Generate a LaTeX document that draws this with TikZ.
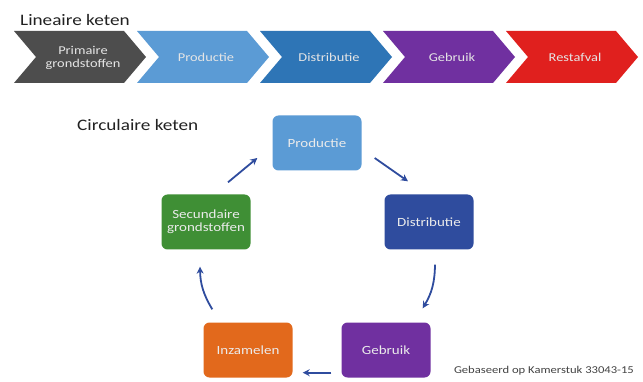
\documentclass[tikz,border=0pt]{standalone}
\usepackage{fontspec}
\setmainfont[FakeStretch=1.2]{Carlito}
\usetikzlibrary{arrows.meta}
\definecolor{cgray}{HTML}{4D4D4D}
\definecolor{clblue}{HTML}{5B9BD5}
\definecolor{cblue}{HTML}{2E75B6}
\definecolor{cpurple}{HTML}{7030A0}
\definecolor{cred}{HTML}{E0201E}
\definecolor{cdblue}{HTML}{2F4C9E}
\definecolor{cgreen}{HTML}{3F8F35}
\definecolor{corange}{HTML}{E2691C}
\definecolor{carrow}{HTML}{2F4C9E}
\definecolor{ctext}{HTML}{222222}
\begin{document}
\begin{tikzpicture}[x=1pt,y=-1pt,
  chevtext/.style={text=white!90!black,font=\fontsize{12}{13.5}\selectfont,align=center},
  cbox/.style={rounded corners=6pt,minimum width=89pt,minimum height=55pt,
    text=white!92!black,font=\fontsize{12.5}{13}\selectfont,align=center,inner sep=2pt},
  flow/.style={draw=carrow,line width=1.8pt,-{Stealth[length=7pt,width=7pt]}},
  title/.style={text=ctext,font=\fontsize{16}{18}\selectfont,anchor=base west,inner sep=0pt}]
\useasboundingbox (0,0) rectangle (643,382);
\fill[white] (0,0) rectangle (643,382);
% linear chain chevrons
\foreach \x/\c in {14/cgray,137/clblue,260/cblue,383/cpurple,506/cred}{
  \fill[\c] (\x,31) -- (\x+110,31) -- (\x+132,57) -- (\x+110,83) -- (\x,83) -- (\x+22,57) -- cycle;
}
\node[title] (lin) at (20,26) {Lineaire keten};
\node[chevtext] (l1) at (83,58) {Primaire\\grondstoffen};
\node[chevtext] (l2) at (206,57) {Productie};
\node[chevtext] (l3) at (329,57) {Distributie};
\node[chevtext] (l4) at (452,57) {Gebruik};
\node[chevtext] (l5) at (575,57) {Restafval};
% circular chain
\node[title] (circ) at (77,131) {Circulaire keten};
\node[cbox,fill=clblue] (prod) at (317,143) {Productie};
\node[cbox,fill=cdblue] (dist) at (429,222) {Distributie};
\node[cbox,fill=cpurple] (geb) at (386,350) {Gebruik};
\node[cbox,fill=corange] (inz) at (248,350) {Inzamelen};
\node[cbox,fill=cgreen] (sec) at (206,222) {Secundaire\\grondstoffen};
\draw[flow] ([xshift=22pt,yshift=12pt]sec.north) -- ([xshift=-15pt,yshift=-15pt]prod.west);
\draw[flow] ([xshift=13pt,yshift=-15pt]prod.east) -- ([xshift=-21pt,yshift=13pt]dist.north);
\draw[flow] ([xshift=6pt,yshift=-15pt]dist.south) to[bend left=15] ([xshift=-8pt,yshift=14pt]geb.north east);
\draw[flow] ([xshift=-10pt,yshift=5pt]geb.south west) -- ([xshift=10pt,yshift=5pt]inz.south east);
\draw[flow] ([xshift=9pt,yshift=13pt]inz.north west) to[bend left=15] ([xshift=-6pt,yshift=-17pt]sec.south);
\node[text=ctext!85!white,font=\fontsize{10.5}{12}\selectfont,anchor=base east,inner sep=0pt] (src) at (634,373) {Gebaseerd op Kamerstuk 33043-15};
\end{tikzpicture}
\end{document}
